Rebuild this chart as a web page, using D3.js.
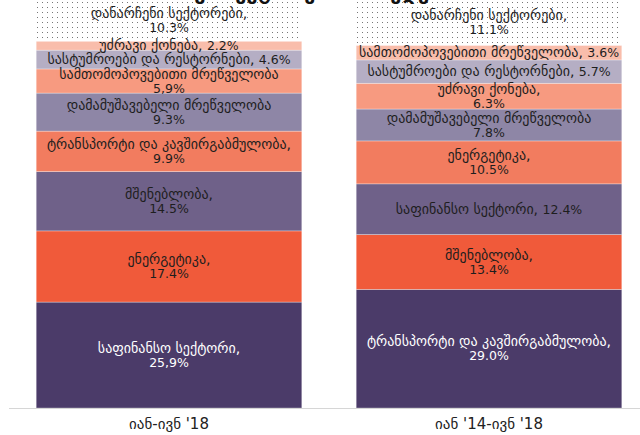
<!DOCTYPE html>
<html>
<head>
<meta charset="utf-8">
<script src="https://cdn.jsdelivr.net/npm/d3@7"></script>
<style>
  html, body { margin: 0; padding: 0; background: #fff; }
  svg { display: block; }
</style>
</head>
<body>
<svg id="chart" width="640" height="435"></svg>
<script>
// ---- data ----
const categories = ["იან-ივნ '18", "იან '14-ივნ '18"];

// segments listed bottom -> top (ranked); colours follow rank
const labelsA = [
  ["საფინანსო სექტორი,", "25,9%"],
  ["ენერგეტიკა,", "17.4%"],
  ["მშენებლობა,", "14.5%"],
  ["ტრანსპორტი და კავშირგაბმულობა,", "9.9%"],
  ["დამამუშავებელი მრეწველობა", "9.3%"],
  ["სამთომოპოვებითი მრეწველობა", "5,9%"],
  ["სასტუმროები და რესტორნები, 4.6%"],
  ["უძრავი ქონება, 2.2%"],
  ["დანარჩენი სექტორები,", "10.3%"]
];
const valuesA = [25.9, 17.4, 14.5, 9.9, 9.3, 5.9, 4.6, 2.2, 10.3];

const labelsB = [
  ["ტრანსპორტი და კავშირგაბმულობა,", "29.0%"],
  ["მშენებლობა,", "13.4%"],
  ["საფინანსო სექტორი, 12.4%"],
  ["ენერგეტიკა,", "10.5%"],
  ["დამამუშავებელი მრეწველობა", "7.8%"],
  ["უძრავი ქონება,", "6.3%"],
  ["სასტუმროები და რესტორნები, 5.7%"],
  ["სამთომოპოვებითი მრეწველობა, 3.6%"],
  ["დანარჩენი სექტორები,", "11.1%"]
];
const valuesB = [29.0, 13.4, 12.4, 10.5, 7.8, 6.3, 5.7, 3.6, 11.1];

const rankColors = ["#4b3b69", "#f05a3a", "#6f6189", "#f27c5f", "#8e86a6",
                    "#f79a80", "#b5aec4", "#f9bdab", "url(#dots)"];
const titleText = "პუი სექტორების მიხედვით";

// ---- chart ----
const svg = d3.select("#chart");

const defs = svg.append("defs");
const pat = defs.append("pattern").attr("id", "dots")
  .attr("patternUnits", "userSpaceOnUse").attr("width", 5).attr("height", 5);
pat.append("rect").attr("width", 5).attr("height", 5).attr("fill", "#fff");
pat.append("rect").attr("x", 2).attr("y", 2).attr("width", 1).attr("height", 1).attr("fill", "#777");

const x = d3.scaleBand().domain(categories).range([9, 649])
  .paddingInner(0.17).paddingOuter(0.085);
const y = d3.scaleLinear().domain([0, 100]).range([408, -1]);

const bars = [
  { cat: categories[0], labels: labelsA, values: valuesA },
  { cat: categories[1], labels: labelsB, values: valuesB }
];

// split a line into Georgian runs and numeric runs (numbers set slightly smaller)
function addRuns(tspanParent, line) {
  const parts = line.split(/([0-9][0-9.,]*%?)/).filter(p => p.length);
  parts.forEach(p => {
    const isNum = /^[0-9]/.test(p);
    tspanParent.append("tspan")
      .attr("font-size", isNum ? 12.5 : 14)
      .text(p);
  });
}

bars.forEach(b => {
  let cum = 0;
  const segs = b.values.map((v, i) => {
    const s = { y0: cum, y1: cum + v, i, label: b.labels[i] };
    cum += v;
    return s;
  });
  const g = svg.append("g");
  g.selectAll("rect").data(segs).join("rect")
    .attr("x", x(b.cat))
    .attr("width", x.bandwidth())
    .attr("y", d => y(d.y1))
    .attr("height", d => y(d.y0) - y(d.y1))
    .attr("fill", d => rankColors[d.i])
    .attr("stroke", "rgba(255,255,255,0.5)")
    .attr("stroke-width", 0.6);

  const cx = x(b.cat) + x.bandwidth() / 2;
  segs.forEach(s => {
    const top = Math.max(y(s.y1), -1);
    const cy = (top + y(s.y0)) / 2;
    const n = s.label.length;
    const lh = 14;
    s.label.forEach((line, k) => {
      const t = g.append("text")
        .attr("text-anchor", "middle")
        .attr("font-family", "DejaVu Sans, sans-serif")
        .attr("x", cx)
        .attr("y", cy - (n - 1) * lh / 2 + k * lh + 4.8)
        .attr("fill", s.i === 0 ? "#fff" : "#1e1e1e");
      addRuns(t, line);
    });
  });
});

// axis
const axis = svg.append("g").attr("transform", "translate(0,408)")
  .call(d3.axisBottom(x).tickSize(0).tickPadding(10));
axis.select(".domain").remove();
axis.selectAll("text")
  .attr("font-family", "DejaVu Sans, sans-serif")
  .attr("font-size", 15)
  .attr("fill", "#222");
svg.append("line").attr("x1", 9).attr("x2", 640).attr("y1", 408.5).attr("y2", 408.5)
  .attr("stroke", "#d6d6d6").attr("stroke-width", 1.2);

// title (clipped at the top in the reference)
svg.append("text").attr("x", 320).attr("y", -1)
  .attr("text-anchor", "middle")
  .attr("font-family", "DejaVu Sans, sans-serif")
  .attr("font-weight", "bold")
  .attr("font-size", 20)
  .attr("fill", "#111")
  .text(titleText);
</script>
</body>
</html>
